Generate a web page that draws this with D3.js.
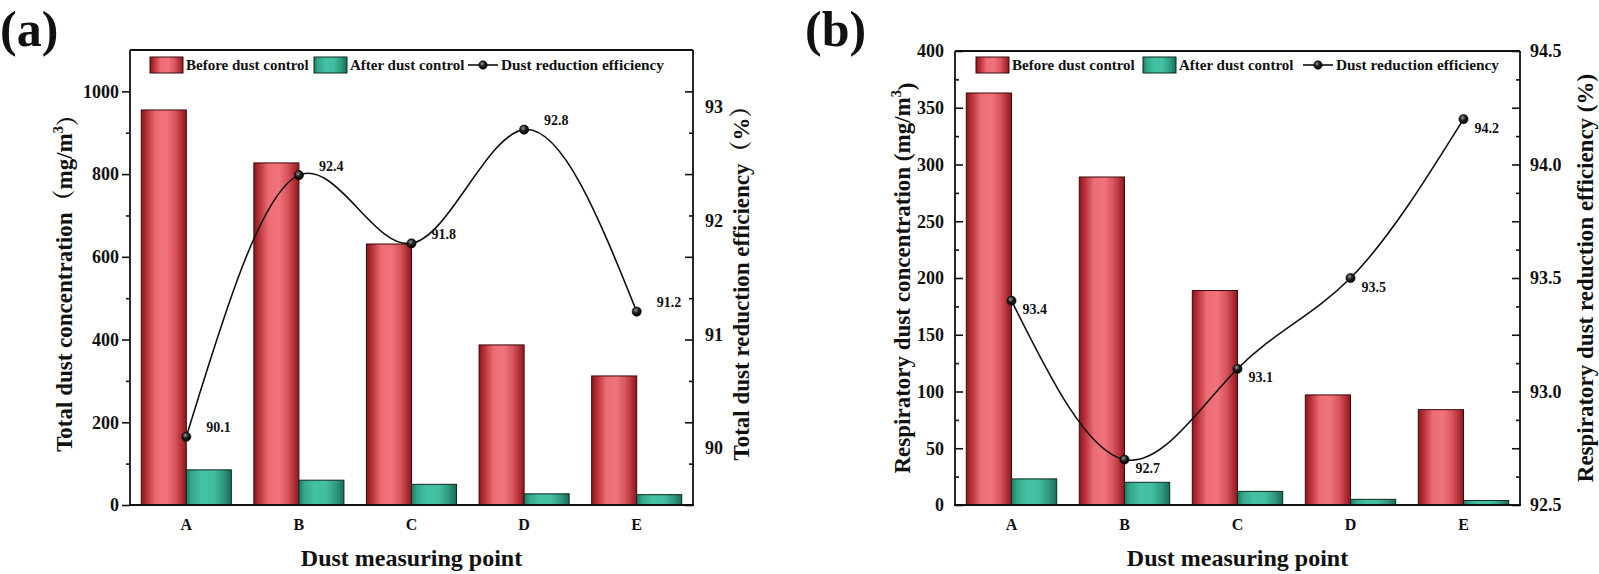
<!DOCTYPE html>
<html><head><meta charset="utf-8">
<script src="https://cdn.jsdelivr.net/npm/d3@7"></script>
<style>
body{margin:0;background:#fff}
svg{display:block}
text{font-family:"Liberation Serif","Times New Roman","Noto Serif CJK SC","Noto Sans CJK SC",serif;font-weight:bold;fill:#111}
</style>
</head><body>
<svg id="c" width="1599" height="574"></svg>
<script>
// ---------- data ----------
const categories = ["A", "B", "C", "D", "E"];
const totalBefore = [955, 827, 631, 387, 312];
const totalAfter = [85, 60, 50, 27, 25];
const totalEfficiency = [90.1, 92.4, 91.8, 92.8, 91.2];
const respBefore = [363, 289, 189, 97, 84];
const respAfter = [23, 20, 12, 5, 4];
const respEfficiency = [93.4, 92.7, 93.1, 93.5, 94.2];
const totalLeftTicks = [0, 200, 400, 600, 800, 1000];
const totalLeftMinor = [100, 300, 500, 700, 900];
const totalRightTicks = [90, 91, 92, 93];
const respLeftTicks = [0, 50, 100, 150, 200, 250, 300, 350, 400];
const respLeftMinor = [25, 75, 125, 175, 225, 275, 325, 375];
const respRightTicks = [92.5, 93.0, 93.5, 94.0, 94.5];
const legendLabels = ["Before dust control", "After dust control", "Dust reduction efficiency"];

const svg = d3.select("#c");
const defs = svg.append("defs");

function hGrad(id, stops) {
  const g = defs.append("linearGradient").attr("id", id)
    .attr("x1", "0%").attr("x2", "100%").attr("y1", "0%").attr("y2", "0%");
  stops.forEach(s => g.append("stop").attr("offset", s[0]).attr("stop-color", s[1]));
}
hGrad("gRed", [["0%", "#8c151c"], ["12%", "#b83038"], ["32%", "#ec6c74"], ["55%", "#f0747c"], ["75%", "#d9545d"], ["92%", "#aa2a31"], ["100%", "#8a171d"]]);
hGrad("gGreen", [["0%", "#1e7a62"], ["12%", "#34a78a"], ["35%", "#44c2a4"], ["60%", "#42bea0"], ["82%", "#2f9a7f"], ["100%", "#1b6a55"]]);
const rg = defs.append("radialGradient").attr("id", "ball").attr("cx", "40%").attr("cy", "35%").attr("r", "65%");
rg.append("stop").attr("offset", "0%").attr("stop-color", "#9a9a9a");
rg.append("stop").attr("offset", "45%").attr("stop-color", "#222");
rg.append("stop").attr("offset", "100%").attr("stop-color", "#000");

function drawPanel(o) {
  const g = svg.append("g");
  const x = d3.scaleBand().domain(categories).range([o.L, o.R]).padding(0);
  const bw = x.bandwidth() * 0.4;
  const yL = d3.scaleLinear().domain(o.leftDomain).range([o.B, o.T]);
  const yR = d3.scaleLinear().domain(o.rightDomain).range([o.B, o.T]);
  const cx = c => x(c) + x.bandwidth() / 2;

  // bars
  g.selectAll(".bb").data(categories).enter().append("rect")
    .attr("x", c => cx(c) - bw).attr("width", bw)
    .attr("y", (c, i) => yL(o.before[i])).attr("height", (c, i) => yL(0) - yL(o.before[i]))
    .attr("fill", "url(#gRed)").attr("stroke", "#3a0a0c").attr("stroke-width", 1);
  g.selectAll(".ba").data(categories).enter().append("rect")
    .attr("x", c => cx(c)).attr("width", bw)
    .attr("y", (c, i) => yL(o.after[i])).attr("height", (c, i) => yL(0) - yL(o.after[i]))
    .attr("fill", "url(#gGreen)").attr("stroke", "#0c2a22").attr("stroke-width", 1);

  // frame
  const fr = g.append("g").attr("stroke", "#111").attr("stroke-width", 1.8).attr("fill", "none");
  fr.append("line").attr("x1", o.L).attr("x2", o.L).attr("y1", o.T).attr("y2", o.B);
  fr.append("line").attr("x1", o.R).attr("x2", o.R).attr("y1", o.T).attr("y2", o.B);
  fr.append("line").attr("x1", o.L).attr("x2", o.R).attr("y1", o.T).attr("y2", o.T);
  fr.append("line").attr("x1", o.L - 1).attr("x2", o.R + 1).attr("y1", o.B).attr("y2", o.B);

  // left ticks
  const leftMajorAxis = (o.leftOut ? d3.axisLeft(yL) : d3.axisRight(yL)).tickValues(o.leftTicks).tickSize(8).tickFormat("");
  const leftMinorAxis = (o.leftOut ? d3.axisLeft(yL) : d3.axisRight(yL)).tickValues(o.leftMinor).tickSize(4).tickFormat("");
  [leftMajorAxis, leftMinorAxis].forEach(a => {
    const ga = g.append("g").attr("transform", `translate(${o.L},0)`).call(a);
    ga.select(".domain").remove();
    ga.selectAll("line").attr("stroke", "#111").attr("stroke-width", 1.6);
  });
  // left labels
  const ll = g.append("g").attr("transform", `translate(${o.L},0)`)
    .call(d3.axisLeft(yL).tickValues(o.leftTicks).tickSize(0).tickPadding(11).tickFormat(d3.format("d")));
  ll.select(".domain").remove();
  ll.selectAll("text").style("font-size", "18px").attr("fill", "#111");

  // right ticks (aligned with left scale ticks)
  const rMajor = d3.axisLeft(yL).tickValues(o.leftTicks).tickSize(8).tickFormat("");
  const rMinor = d3.axisLeft(yL).tickValues(o.leftMinor).tickSize(4).tickFormat("");
  [rMajor, rMinor].forEach(a => {
    const ga = g.append("g").attr("transform", `translate(${o.R},0)`).call(a);
    ga.select(".domain").remove();
    ga.selectAll("line").attr("stroke", "#111").attr("stroke-width", 1.6);
  });
  const rl = g.append("g").attr("transform", `translate(${o.R},0)`)
    .call(d3.axisRight(yR).tickValues(o.rightTicks).tickSize(0).tickPadding(o.rPad).tickFormat(o.rFormat));
  rl.select(".domain").remove();
  rl.selectAll("text").style("font-size", "18px").attr("fill", "#111");

  // category labels
  const xl = g.append("g").attr("transform", `translate(0,${o.B})`)
    .call(d3.axisBottom(x).tickSize(0).tickPadding(14));
  xl.select(".domain").remove();
  xl.selectAll("text").style("font-size", "16px").attr("fill", "#111");

  // line
  const line = d3.line().x((d, i) => cx(categories[i])).y(d => yR(d)).curve(d3.curveNatural);
  g.append("path").datum(o.eff).attr("d", line).attr("fill", "none").attr("stroke", "#111").attr("stroke-width", 1.6);
  g.selectAll(".pt").data(o.eff).enter().append("circle")
    .attr("cx", (d, i) => cx(categories[i])).attr("cy", d => yR(d)).attr("r", 4.6)
    .attr("fill", "url(#ball)").attr("stroke", "#000").attr("stroke-width", 0.6);
  g.selectAll(".lab").data(o.eff).enter().append("text")
    .attr("x", (d, i) => cx(categories[i]) + o.labDx).attr("y", d => yR(d) + o.labDy)
    .attr("dominant-baseline", "central").style("font-size", "14px").text(d => d3.format(".1f")(d));

  // titles
  const mid = (o.T + o.B) / 2;
  const lt = g.append("text").attr("transform", `translate(${o.leftTitleX},${mid}) rotate(-90)`)
    .attr("text-anchor", "middle").attr("dominant-baseline", "central").style("font-size", o.leftTitleSize + "px");
  lt.append("tspan").text(o.leftTitle[0]);
  lt.append("tspan").attr("dy", "-0.45em").style("font-size", (o.leftTitleSize * 0.62) + "px").text("3");
  lt.append("tspan").attr("dy", "0.45em").text(o.leftTitle[1]);
  g.append("text").attr("transform", `translate(${o.rightTitleX},${mid}) rotate(-90)`)
    .attr("text-anchor", "middle").attr("dominant-baseline", "central").style("font-size", o.rightTitleSize + "px")
    .text(o.rightTitle);
  g.append("text").attr("x", (o.L + o.R) / 2).attr("y", 566).attr("text-anchor", "middle")
    .style("font-size", "24px").text("Dust measuring point");

  // panel letter
  g.append("text").attr("x", o.letterX).attr("y", 46).style("font-size", "50px").text(o.letter);

  // legend
  const lg = g.append("g");
  const ly = 65;
  lg.append("rect").attr("x", o.leg[0]).attr("y", ly - 8).attr("width", 33).attr("height", 16)
    .attr("fill", "url(#gRed)").attr("stroke", "#3a0a0c").attr("stroke-width", 1);
  lg.append("text").attr("x", o.leg[0] + 36).attr("y", ly).attr("dominant-baseline", "central")
    .style("font-size", "15px").text(legendLabels[0]);
  lg.append("rect").attr("x", o.leg[1]).attr("y", ly - 8).attr("width", 33).attr("height", 16)
    .attr("fill", "url(#gGreen)").attr("stroke", "#0c2a22").attr("stroke-width", 1);
  lg.append("text").attr("x", o.leg[1] + 36).attr("y", ly).attr("dominant-baseline", "central")
    .style("font-size", "15px").text(legendLabels[1]);
  lg.append("line").attr("x1", o.leg[2]).attr("x2", o.leg[2] + 30).attr("y1", ly).attr("y2", ly)
    .attr("stroke", "#111").attr("stroke-width", 1.6);
  lg.append("circle").attr("cx", o.leg[2] + 15).attr("cy", ly).attr("r", 4.2).attr("fill", "url(#ball)").attr("stroke", "#000").attr("stroke-width", 0.6);
  lg.append("text").attr("x", o.leg[2] + 33).attr("y", ly).attr("dominant-baseline", "central")
    .attr("textLength", 163).attr("lengthAdjust", "spacingAndGlyphs")
    .style("font-size", "15px").text(legendLabels[2]);
}

drawPanel({
  L: 130, R: 693, T: 50, B: 505,
  leftDomain: [0, 1100], rightDomain: [89.5, 93.5],
  before: totalBefore, after: totalAfter, eff: totalEfficiency,
  leftTicks: totalLeftTicks, leftMinor: totalLeftMinor, leftOut: true,
  rightTicks: totalRightTicks, rFormat: d3.format("d"), rPad: 12,
  labDx: 20, labDy: -9,
  leftTitle: ["Total dust concentration（mg/m", "）"], leftTitleX: 64, leftTitleSize: 23,
  rightTitle: "Total dust reduction efficiency（%）", rightTitleX: 741, rightTitleSize: 23,
  letter: "(a)", letterX: 0,
  leg: [150, 314, 468]
});
drawPanel({
  L: 955, R: 1520, T: 51, B: 505,
  leftDomain: [0, 400], rightDomain: [92.5, 94.5],
  before: respBefore, after: respAfter, eff: respEfficiency,
  leftTicks: respLeftTicks, leftMinor: respLeftMinor, leftOut: false,
  rightTicks: respRightTicks, rFormat: d3.format(".1f"), rPad: 10,
  labDx: 11, labDy: 9,
  leftTitle: ["Respiratory dust concentration (mg/m", ")"], leftTitleX: 902, leftTitleSize: 23,
  rightTitle: "Respiratory dust reduction efficiency (%)", rightTitleX: 1585, rightTitleSize: 23,
  letter: "(b)", letterX: 805,
  leg: [976, 1143, 1303]
});
</script>
</body></html>
